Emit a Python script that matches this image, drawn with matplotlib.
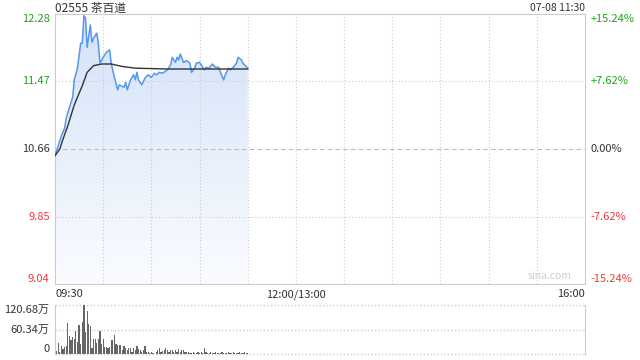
import numpy as np
import matplotlib.pyplot as plt
from matplotlib.path import Path
from matplotlib.patches import PathPatch
from matplotlib.colors import LinearSegmentedColormap

plt.rcParams['font.family'] = ['Noto Sans CJK SC', 'DejaVu Sans']

# 分时数据 (交易分钟, 价格)
minutes = [0, 2, 4, 6, 7, 9, 11, 12, 14, 16, 17, 18, 19, 20, 22, 23, 24, 26, 27, 28,
           30, 32, 34, 35, 37, 39, 40, 43, 44, 45, 47, 49, 50, 51, 52, 54, 56, 58, 60, 62,
           63, 65, 67, 70, 72, 73, 75, 76, 77, 78, 80, 82, 84, 85, 87, 88, 90, 91, 93, 94,
           96, 98, 100, 102, 103, 105, 106, 108, 109, 111, 113, 114, 116, 117, 120]
price = [10.58, 10.70, 10.82, 10.91, 11.03, 11.16, 11.28, 11.49, 11.63, 11.93, 11.93, 12.26, 12.23, 11.88, 12.15, 11.94, 11.99, 12.05, 11.93, 11.69,
         11.76, 11.82, 11.85, 11.69, 11.52, 11.37, 11.43, 11.40, 11.46, 11.37, 11.49, 11.55, 11.49, 11.58, 11.49, 11.43, 11.51, 11.55, 11.52, 11.57,
         11.55, 11.58, 11.57, 11.61, 11.67, 11.76, 11.70, 11.76, 11.73, 11.80, 11.70, 11.72, 11.69, 11.58, 11.63, 11.69, 11.70, 11.67, 11.61, 11.64,
         11.63, 11.68, 11.64, 11.64, 11.58, 11.49, 11.55, 11.63, 11.61, 11.64, 11.69, 11.76, 11.73, 11.69, 11.63]

avg_min = [0, 3, 5, 8, 12, 17, 20, 24, 29, 35, 42, 50, 70, 120]
avg_price = [10.58, 10.66, 10.78, 10.94, 11.19, 11.42, 11.58, 11.66, 11.68, 11.68, 11.65, 11.63, 11.62, 11.62]

# 成交量 (万), 每分钟
volume = [10, 8, 27, 5, 20, 12, 18, 20, 76, 45, 35, 43, 38, 57, 30, 72, 25, 80, 121, 55,
          107, 75, 68, 15, 38, 38, 27, 38, 57, 25, 38, 18, 18, 16, 18, 35, 35, 47, 25, 23,
          23, 21, 11, 19, 15, 11, 15, 15, 6, 16, 11, 19, 13, 9, 5, 9, 19, 5, 6, 3,
          5, 3, 1, 5, 9, 15, 5, 7, 11, 15, 9, 5, 9, 11, 6, 11, 4, 12, 6, 9,
          11, 6, 4, 6, 3, 3, 4, 2, 3, 5, 2, 4, 3, 15, 4, 2, 3, 4, 2, 3,
          4, 2, 3, 2, 4, 3, 2, 3, 4, 2, 3, 4, 2, 3, 2, 4, 3, 2, 4, 3, 2]

prev_close = 10.66
ticks = [12.28, 11.47, 10.66, 9.85, 9.04]
pct = ['+15.24%', '+7.62%', '0.00%', '-7.62%', '-15.24%']
tick_colors = ['#1ba51b', '#1ba51b', '#333333', '#f03a3a', '#f03a3a']
vol_ticks = [120.68, 60.34, 0]
vol_labels = ['120.68万', '60.34万', '0']

fig = plt.figure(figsize=(6.4, 3.6), dpi=100)
ax = fig.add_axes([55/640, 76/360, 530/640, 270/360])
vax = fig.add_axes([55/640, 6/360, 530/640, 49/360])

grid_c = '#cccccc'
ax.set_xlim(0, 330)
ax.set_ylim(9.04, 12.28)
for s in ax.spines.values():
    s.set_color(grid_c)
ax.set_xticks([])
ax.set_yticks([])
for x in range(30, 330, 30):
    ax.axvline(x, color=grid_c, lw=0.8, ls=(0, (1, 2)), zorder=2)
for y in [11.47, 9.85]:
    ax.axhline(y, color=grid_c, lw=0.8, ls=(0, (1, 2)), zorder=2)
ax.axhline(prev_close, color='#bbbbbb', lw=0.8, ls=(0, (4, 3)), zorder=2)

# 渐变填充
verts = [(minutes[0], 9.04)] + list(zip(minutes, price)) + [(minutes[-1], 9.04)]
clip = PathPatch(Path(verts), facecolor='none', edgecolor='none')
ax.add_patch(clip)
grad = np.linspace(0, 1, 256).reshape(-1, 1)
cmap = LinearSegmentedColormap.from_list('g', ['#fbfcff', '#d3e2f8'])
im = ax.imshow(grad, cmap=cmap, aspect='auto', origin='lower',
               extent=[0, 330, 9.04, 12.28], zorder=1)
im.set_clip_path(clip)

ax.plot(minutes, price, color='#5596ee', lw=1.1, zorder=3)
ax.plot(avg_min, avg_price, color='#333333', lw=1.0, zorder=3)

for i, (t, p, c) in enumerate(zip(ticks, pct, tick_colors)):
    va = 'top' if i == 0 else ('bottom' if i == len(ticks) - 1 else 'center')
    ax.text(-0.01, t, f'{t:.2f}', transform=ax.get_yaxis_transform(), ha='right', va=va,
            color=c, fontsize=8)
    ax.text(1.01, t, p, transform=ax.get_yaxis_transform(), ha='left', va=va,
            color=c, fontsize=8)

ax.text(0, -0.02, '09:30', transform=ax.transAxes, ha='left', va='top', fontsize=8, color='#333333')
ax.text(150, 9.04 - 0.065, '12:00/13:00', ha='center', va='top', fontsize=8, color='#333333')
ax.text(1, -0.02, '16:00', transform=ax.transAxes, ha='right', va='top', fontsize=8, color='#333333')
fig.text(55/640, 1 - 8/360, '02555 茶百道', ha='left', va='center', fontsize=8.5, color='#333333')
fig.text(585/640, 1 - 8/360, '07-08 11:30', ha='right', va='center', fontsize=7.5, color='#333333')
ax.text(0.975, 0.01, 'sina.com', transform=ax.transAxes, ha='right', va='bottom', fontsize=7.5, color='#cccccc')

# 成交量
vax.set_xlim(0, 330)
vax.set_ylim(0, 120.68)
vax.bar(range(len(volume)), volume, width=0.75, color='#666666')
vax.set_xticks([])
vax.set_yticks([])
for k in ['left', 'right']:
    vax.spines[k].set_color(grid_c)
for k in ['top', 'bottom']:
    vax.spines[k].set_visible(False)
for y in vol_ticks:
    vax.axhline(y, color=grid_c, lw=1, ls=(0, (1, 1.5)), zorder=0, clip_on=False)
for i, (v, lab) in enumerate(zip(vol_ticks, vol_labels)):
    va = 'top' if i == 0 else ('bottom' if i == len(vol_ticks) - 1 else 'center')
    vax.text(-0.01, v, lab, transform=vax.get_yaxis_transform(), ha='right', va=va,
             fontsize=8, color='#333333')

fig.savefig('out.png', dpi=100)
